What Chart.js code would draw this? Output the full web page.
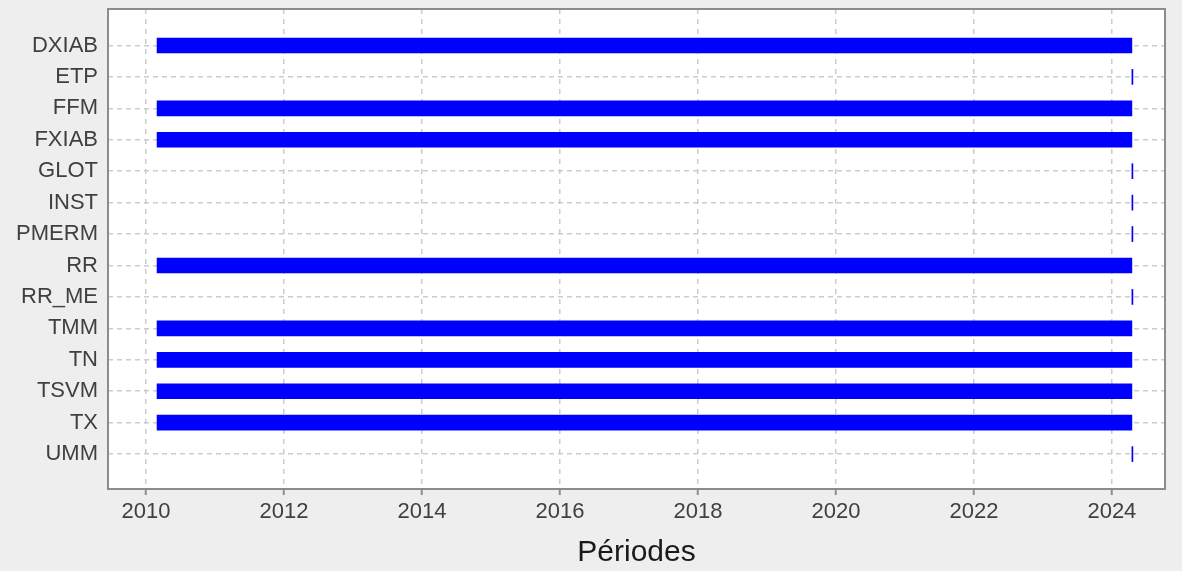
<!DOCTYPE html>
<html>
<head>
<meta charset="utf-8">
<script src="https://cdn.jsdelivr.net/npm/chart.js@4"></script>
<style>
html,body{margin:0;padding:0;background:#eeeeee;}
#wrap{width:1182px;height:571px;}
</style>
</head>
<body>
<div id="wrap"><canvas id="c" width="1182" height="571"></canvas></div>
<script>
const categories = ["DXIAB","ETP","FFM","FXIAB","GLOT","INST","PMERM","RR","RR_ME","TMM","TN","TSVM","TX","UMM"];
const startYears = [2010.16, 2024.290, 2010.16, 2010.16, 2024.290, 2024.290, 2024.290, 2010.16, 2024.290, 2010.16, 2010.16, 2010.16, 2010.16, 2024.290];
const endYears   = [2024.29, 2024.305, 2024.29, 2024.29, 2024.305, 2024.305, 2024.305, 2024.29, 2024.305, 2024.29, 2024.29, 2024.29, 2024.29, 2024.305];
const xTickYears = [2010, 2012, 2014, 2016, 2018, 2020, 2022, 2024];
const xTitle = "Périodes";

const barData = categories.map((c, i) => ({ x: [startYears[i], endYears[i]], y: i }));

const bgPlugin = {
  id: 'bg',
  beforeDraw(chart) {
    const { ctx, chartArea: a } = chart;
    ctx.save();
    ctx.fillStyle = '#eeeeee';
    ctx.fillRect(0, 0, chart.width, chart.height);
    ctx.fillStyle = '#ffffff';
    ctx.fillRect(a.left, a.top, a.right - a.left, a.bottom - a.top);
    ctx.restore();
  },
  afterDatasetsDraw(chart) {
    const { ctx, chartArea: a } = chart;
    ctx.save();
    ctx.strokeStyle = '#8c8c8c';
    ctx.lineWidth = 2;
    ctx.strokeRect(a.left, a.top, a.right - a.left, a.bottom - a.top);
    ctx.restore();
  }
};

new Chart(document.getElementById('c'), {
  type: 'bar',
  data: {
    datasets: [{
      data: barData,
      backgroundColor: '#0000ff',
      borderWidth: 0,
      barThickness: 15,
      grouped: false
    }]
  },
  options: {
    indexAxis: 'y',
    responsive: false,
    animation: false,
    devicePixelRatio: 1,
    layout: { padding: { top: 9, right: 17, left: 0, bottom: 0 } },
    plugins: { legend: { display: false }, tooltip: { enabled: false } },
    scales: {
      x: {
        type: 'linear',
        min: 2009.449,
        max: 2024.77,
        afterBuildTicks(scale) { scale.ticks = xTickYears.map(v => ({ value: v })); },
        afterFit(scale) { scale.height = 82; scale.paddingLeft = 0; scale.paddingRight = 0; },
        ticks: {
          callback: v => String(v),
          color: '#404040',
          font: { family: 'Liberation Sans', size: 22 },
          padding: 4,
          maxRotation: 0
        },
        grid: {
          color: '#cccccc',
          lineWidth: 1.5,
          tickColor: '#8c8c8c',
          tickLength: 6,
          tickWidth: 2,
          tickBorderDash: []
        },
        border: { display: false, dash: [5, 5] },
        title: {
          display: true,
          text: xTitle,
          color: '#1a1a1a',
          font: { family: 'Liberation Sans', size: 30 },
          padding: { top: 0, bottom: 0 }
        }
      },
      y: {
        type: 'linear',
        reverse: true,
        offset: false,
        min: -1.16,
        max: 14.11,
        afterBuildTicks(scale) { scale.ticks = categories.map((c, i) => ({ value: i })); },
        afterFit(scale) { scale.width = 108; scale.paddingTop = 0; scale.paddingBottom = 0; },
        ticks: {
          callback: v => categories[v],
          color: '#404040',
          font: { family: 'Liberation Sans', size: 22 },
          padding: 10
        },
        grid: { color: '#cccccc', lineWidth: 1.5, drawTicks: false, offset: false },
        border: { display: false, dash: [5, 4] }
      }
    }
  },
  plugins: [bgPlugin]
});
</script>
</body>
</html>
